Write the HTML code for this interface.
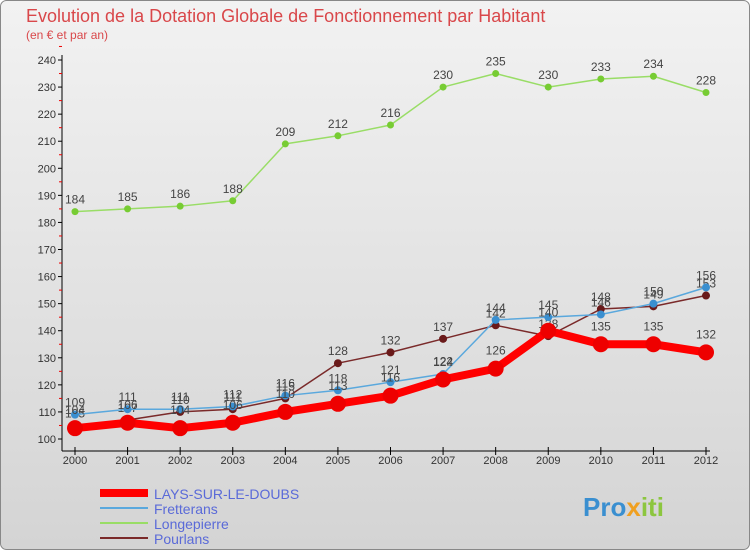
<!DOCTYPE html>
<html><head><meta charset="utf-8"><style>
body{margin:0;width:750px;height:550px;overflow:hidden;font-family:"Liberation Sans",sans-serif}
</style></head><body>
<svg width="750" height="550" xmlns="http://www.w3.org/2000/svg" font-family="Liberation Sans, sans-serif">
<defs><linearGradient id="bg" x1="0" y1="0" x2="0" y2="1"><stop offset="0" stop-color="#f2f2f2"/><stop offset="1" stop-color="#d4d4d4"/></linearGradient></defs>
<rect x="0.5" y="0.5" width="749" height="549" rx="6" fill="url(#bg)" stroke="#888"/>
<text x="26" y="22" font-size="18" fill="#d9474a">Evolution de la Dotation Globale de Fonctionnement par Habitant</text>
<text x="26" y="39" font-size="12" fill="#d9474a">(en € et par an)</text>
<g id="axes"></g><g id="series"></g><g id="legend"></g>
<text x="583" y="516" font-size="26" font-weight="bold" fill="#3a8fd0">Pro<tspan fill="#f0a020">x</tspan><tspan fill="#8cc63f">iti</tspan></text>
</svg>
<script>
const years=[2000,2001,2002,2003,2004,2005,2006,2007,2008,2009,2010,2011,2012];
const yTicks=[100,110,120,130,140,150,160,170,180,190,200,210,220,230,240];
const lays=[104,106,104,106,110,113,116,122,126,140,135,135,132];
const fretterans=[109,111,111,112,116,118,121,124,144,145,146,150,156];
const longepierre=[184,185,186,188,209,212,216,230,235,230,233,234,228];
const pourlans=[105,107,110,111,115,128,132,137,142,138,148,149,153];
const NS="http://www.w3.org/2000/svg";
const X=i=>75+i*(706-75)/12, Y=v=>439-(v-100)*(439-60)/140;
function mk(t,a,p,txt){const e=document.createElementNS(NS,t);for(const k in a)e.setAttribute(k,a[k]);if(txt!==undefined)e.textContent=txt;p.appendChild(e);return e;}
const ax=document.getElementById('axes');
let e=mk('line',{x1:62,y1:55,x2:62,y2:451,stroke:'#000'},ax);

e=mk('line',{x1:62,y1:451,x2:710,y2:451,stroke:'#000'},ax);

yTicks.forEach(v=>{
 mk('line',{x1:58,y1:Y(v),x2:62,y2:Y(v),stroke:'#000'},ax);
 mk('line',{x1:59,y1:Y(v+5),x2:62,y2:Y(v+5),stroke:'#e00'},ax);
 const t=mk('text',{x:56,y:Y(v)+4,'font-size':11,'text-anchor':'end',fill:'#333'},ax,v);
 
});
years.forEach((y,i)=>{
 mk('line',{x1:X(i),y1:447,x2:X(i),y2:455,stroke:'#000'},ax);
 const t=mk('text',{x:X(i),y:464,'font-size':11,'text-anchor':'middle',fill:'#333'},ax,y);
 
});
const S=[
 {n:'Longepierre',d:longepierre,c:'#99dd66',fc:'#77cc33',w:1.5,r:3.5,off:-8},
 {n:'Pourlans',d:pourlans,c:'#7a2a2a',fc:'#6a1a1a',w:1.5,r:4,off:-8},
 {n:'Fretterans',d:fretterans,c:'#5aa8dd',fc:'#3a8fd0',w:1.5,r:4,off:-8},
 {n:'LAYS-SUR-LE-DOUBS',d:lays,c:'#ff0000',fc:'#ee0000',w:8,r:8,off:-14}
];
const sg=document.getElementById('series');
S.forEach(s=>{
 const g=mk('g',{},sg);
 
 const p=mk('polyline',{points:s.d.map((v,i)=>X(i)+','+Y(v)).join(' '),fill:'none',stroke:s.c,'stroke-width':s.w,'stroke-linejoin':'round'},g);
 
 s.d.forEach((v,i)=>{
  const c=mk('circle',{cx:X(i),cy:Y(v),r:s.r,fill:s.fc},g);
  
  const t=mk('text',{x:X(i),y:Y(v)+s.off,'font-size':12,'text-anchor':'middle',fill:'#444'},g,v);
  
 });
});
const lg=document.getElementById('legend');
[S[3],S[2],S[0],S[1]].forEach((s,k)=>{
 const y=493+k*15;
 const g=mk('g',{},lg);
 
 mk('line',{x1:100,y1:y,x2:148,y2:y,stroke:s.c,'stroke-width':k==0?8:2},g);
 mk('text',{x:154,y:y+6,'font-size':14,fill:'#5a6ad8'},g,s.n);
});
</script>
</body></html>
